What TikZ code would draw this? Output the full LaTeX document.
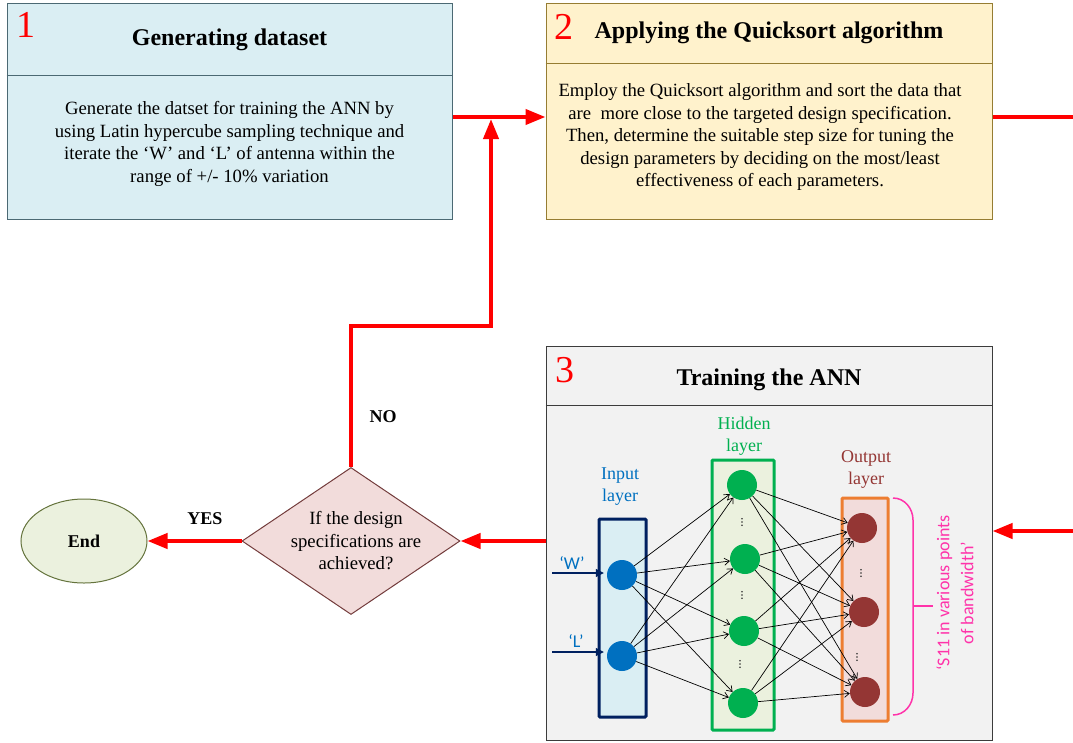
\documentclass[tikz,border=0pt]{standalone}
\usepackage{fontspec}
\setmainfont{Liberation Serif}
\newfontfamily\calibri{Carlito}
\usetikzlibrary{arrows.meta,shapes.geometric,positioning}
\definecolor{boxblue}{RGB}{218,238,243}
\definecolor{boxblueline}{RGB}{75,105,115}
\definecolor{boxyellow}{RGB}{255,242,204}
\definecolor{boxyellowline}{RGB}{150,125,50}
\definecolor{boxgray}{RGB}{242,242,242}
\definecolor{boxgrayline}{RGB}{60,60,60}
\definecolor{decfill}{RGB}{242,220,219}
\definecolor{decline}{RGB}{115,60,60}
\definecolor{endfill}{RGB}{235,241,222}
\definecolor{endline}{RGB}{100,115,60}
\definecolor{innavy}{RGB}{0,32,96}
\definecolor{inblue}{RGB}{0,112,192}
\definecolor{hidgreen}{RGB}{0,176,80}
\definecolor{outorange}{RGB}{237,125,49}
\definecolor{outbrown}{RGB}{148,54,52}
\definecolor{bandpink}{RGB}{255,51,170}
\tikzset{
  flow/.style={red, line width=4pt, -{Triangle[length=20pt,width=15pt]}},
  flowline/.style={red, line width=4pt},
  stagebox/.style={draw, line width=1pt, inner sep=0pt},
  stagenum/.style={text=red, font=\fontsize{38}{38}\selectfont},
  stagetitle/.style={font=\fontsize{24}{28}\selectfont\bfseries},
  bodytext/.style={align=center, font=\fontsize{18.7}{22.5}\selectfont},
  flowlabel/.style={font=\fontsize{18}{22}\selectfont\bfseries},
  layerbox/.style={draw, line width=3pt, rounded corners=1pt, inner sep=0pt},
  layertitle/.style={align=center, font=\fontsize{18}{22}\selectfont},
  neuron/.style={circle, minimum size=30pt, inner sep=0pt},
  synapse/.style={line width=0.7pt, -{Straight Barb[length=5pt,width=7pt]}},
  inarrow/.style={innavy, line width=1.2pt, -{Triangle[length=8pt,width=8pt]}, shorten >=3pt},
  inlabel/.style={text=inblue, font=\calibri\fontsize{18}{20}\selectfont}
}
\begin{document}
\begin{tikzpicture}[x=1pt, y=-1pt]
    \useasboundingbox (0,0) rectangle (1073,742);
    \node[stagebox, fill=boxblue, draw=boxblueline, minimum width=445pt, minimum height=216pt] (box1) at (229.5,111) {};
    \draw[boxblueline, line width=1pt] (box1.west |- 0,75) -- (box1.east |- 0,75);
    \node[stagenum] (num1) at (26,25) {1};
    \node[stagetitle] (title1) at (229.5,40) {Generating dataset};
    \node[bodytext] (text1) at (229.5,144) {Generate the datset for training the ANN by\\using Latin hypercube sampling technique and\\iterate the ‘W’ and ‘L’ of antenna within the\\range of +/- 10\% variation};
    \node[stagebox, fill=boxyellow, draw=boxyellowline, minimum width=446pt, minimum height=216pt] (box2) at (769,111) {};
    \draw[boxyellowline, line width=1pt] (box2.west |- 0,63) -- (box2.east |- 0,63);
    \node[stagenum] (num2) at (564,27) {2};
    \node[stagetitle] (title2) at (769,33) {Applying the Quicksort algorithm};
    \node[bodytext] (text2) at (760,137) {Employ the Quicksort algorithm and sort the data that\\are\ \ more close to the targeted design specification.\\Then, determine the suitable step size for tuning the\\design parameters by deciding on the most/least\\effectiveness of each parameters.};
    \node[stagebox, fill=boxgray, draw=boxgrayline, minimum width=446pt, minimum height=394pt] (box3) at (769,543) {};
    \draw[boxgrayline, line width=1pt] (box3.west |- 0,405) -- (box3.east |- 0,405);
    \node[stagenum] (num3) at (565,370) {3};
    \node[stagetitle] (title3) at (769,380) {Training the ANN};
    \node[draw=decline, fill=decfill, line width=1pt, diamond, minimum width=218pt, minimum height=147pt, inner sep=0pt] (dec) at (351,541) {};
    \node[bodytext] (dectext) at (356,541) {If the design\\specifications are\\achieved?};
    \node[draw=endline, fill=endfill, line width=1pt, ellipse, minimum width=126pt, minimum height=84pt, flowlabel] (endnode) at (84,541) {End};
    \coordinate (loopout) at (1073,117);
    \coordinate (loopin) at (1073,531);
    \coordinate (noturn) at (491,326);
    \coordinate (nojoin) at (491,119);
    \draw[flow] ([yshift=-6pt]box1.east) -- ([yshift=-6pt]box2.west);
    \draw[flowline] ([yshift=-6pt]box2.east) -- (loopout);
    \draw[flow] (loopin) -- (loopin -| box3.east);
    \draw[flow] (box3.west |- dec.east) -- (dec.east);
    \draw[flow] (dec.west) -- (endnode.east);
    \draw[flow] (dec.north) |- (noturn) -- (nojoin);
    \node[flowlabel] (yes) at (205,519) {YES};
    \node[flowlabel] (no) at (383,417) {NO};
    \node[layerbox, draw=innavy, fill=boxblue, minimum width=47pt, minimum height=198pt] (inlayer) at (622.5,618) {};
    \node[layerbox, draw=hidgreen, fill=endfill, minimum width=62pt, minimum height=270pt] (hidlayer) at (743,595) {};
    \node[layerbox, draw=outorange, fill=decfill, minimum width=46pt, minimum height=223pt] (outlayer) at (865,609.5) {};
    \node[layertitle, text=inblue] (intitle) at (620,487) {Input\\layer};
    \node[layertitle, text=hidgreen] (hidtitle) at (744,436) {Hidden\\layer};
    \node[layertitle, text=outbrown] (outtitle) at (866,469) {Output\\layer};
    \node[neuron, fill=inblue] (i1) at (622,575) {};
    \node[neuron, fill=inblue] (i2) at (622,656) {};
    \foreach \n/\x/\y in {1/742/485, 2/745/559, 3/744/631, 4/743/703}
        \node[neuron, fill=hidgreen] (h\n) at (\x,\y) {};
    \foreach \n/\x/\y in {1/862/528, 2/864/612, 3/865/692}
        \node[neuron, fill=outbrown] (o\n) at (\x,\y) {};
    \foreach \x/\y in {742/522, 742/595, 740/664, 861/573, 857/657}
        \foreach \d in {-3.2,0,3.2} \fill[black!80] (\x,\y+\d) circle (0.9pt);
    \foreach \a in {1,2} \foreach \b in {1,...,4} \draw[synapse] (i\a) -- (h\b);
    \foreach \a in {1,...,4} \foreach \b in {1,2,3} \draw[synapse] (h\a) -- (o\b);
    \coordinate (win) at (552,573);
    \coordinate (lin) at (552,652);
    \draw[inarrow] (win) -- (win -| i1.west);
    \draw[inarrow] (lin) -- (lin -| i2.west);
    \node[inlabel] (wlab) at (572,563) {‘W’};
    \node[inlabel] (llab) at (576,641) {‘L’};
    \draw[bandpink, line width=1.5pt] (893,498) to[out=0,in=90] (913,520) -- (913,693) to[out=-90,in=0] (893,715);
    \draw[bandpink, line width=1.5pt] (913,606) -- (933,606);
    \node[align=center, text=bandpink, rotate=90, font=\calibri\fontsize{18}{24}\selectfont] (s11) at (955,593) {‘S11 in various points\\of bandwidth’};
\end{tikzpicture}
\end{document}
